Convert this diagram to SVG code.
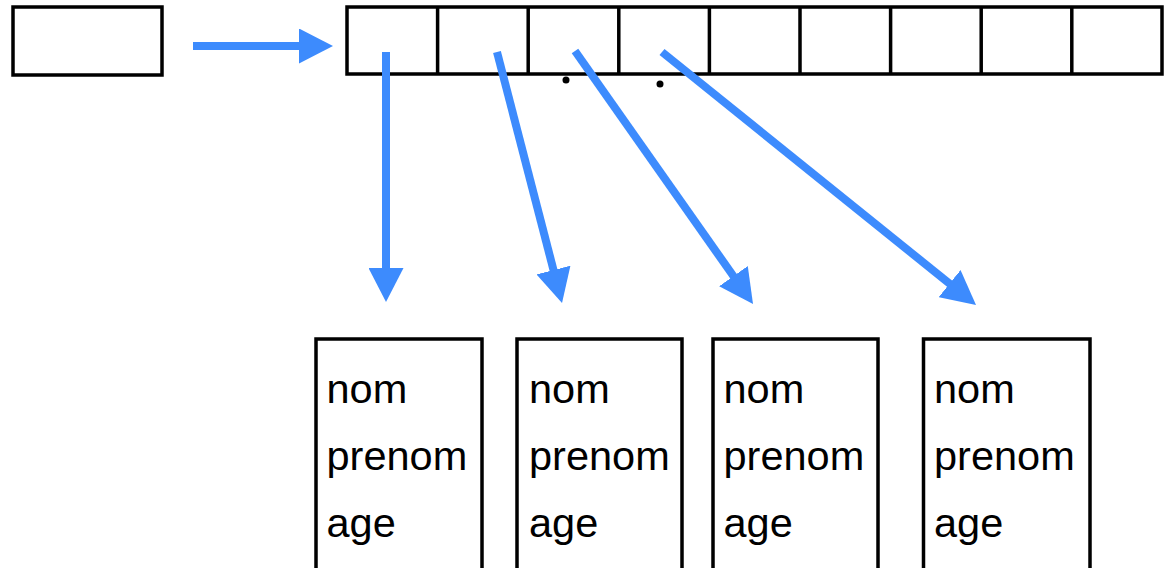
<svg xmlns="http://www.w3.org/2000/svg" width="1173" height="568" viewBox="0 0 1173 568">
<style>
.box{fill:#fff;stroke:#000;stroke-width:3.5}
.cell{fill:none;stroke:#000;stroke-width:3.5}
.conn{stroke:#3d8bfd;stroke-width:8;fill:none}
.lbl{font-family:"Liberation Sans",Arial,sans-serif;font-size:41.5px;fill:#000}
</style>
<defs>
<marker id="ah" markerUnits="userSpaceOnUse" markerWidth="34" markerHeight="35" refX="2" refY="17.5" orient="auto" viewBox="0 0 34 35">
<path d="M0,0 L34,17.5 L0,35 z" fill="#3d8bfd"/>
</marker>
</defs>
<rect width="1173" height="568" fill="#fff"/>
<g id="pointer"><rect class="box" x="13" y="7" width="149" height="68"/></g>
<g id="array">
<rect class="box" x="347" y="7" width="815" height="67"/>
<path class="cell" d="M437.6,7V74M528.2,7V74M618.8,7V74M709.4,7V74M800,7V74M890.6,7V74M981.2,7V74M1071.8,7V74"/>
<circle cx="566" cy="80" r="3.5"/>
<circle cx="660" cy="84" r="3.5"/>
</g>
<g id="connectors">
<line class="conn" x1="193" y1="46" x2="301" y2="46" marker-end="url(#ah)"/>
<line class="conn" x1="386" y1="52" x2="386" y2="270" marker-end="url(#ah)"/>
<line class="conn" x1="497" y1="52" x2="554" y2="272" marker-end="url(#ah)"/>
<line class="conn" x1="575" y1="51" x2="734.6" y2="277.8" marker-end="url(#ah)"/>
<line class="conn" x1="662" y1="52" x2="951.1" y2="284.9" marker-end="url(#ah)"/>
</g>
<g id="obj1"><rect class="box" x="316" y="339" width="166" height="240"/>
<text class="lbl" x="326.5" y="403">nom</text><text class="lbl" x="326.5" y="470">prenom</text><text class="lbl" x="326.5" y="537">age</text></g>
<g id="obj2"><rect class="box" x="517" y="339" width="165" height="240"/>
<text class="lbl" x="529" y="403">nom</text><text class="lbl" x="529" y="470">prenom</text><text class="lbl" x="529" y="537">age</text></g>
<g id="obj3"><rect class="box" x="713" y="339" width="165" height="240"/>
<text class="lbl" x="723.5" y="403">nom</text><text class="lbl" x="723.5" y="470">prenom</text><text class="lbl" x="723.5" y="537">age</text></g>
<g id="obj4"><rect class="box" x="923.5" y="339" width="166.5" height="240"/>
<text class="lbl" x="934" y="403">nom</text><text class="lbl" x="934" y="470">prenom</text><text class="lbl" x="934" y="537">age</text></g>
</svg>
